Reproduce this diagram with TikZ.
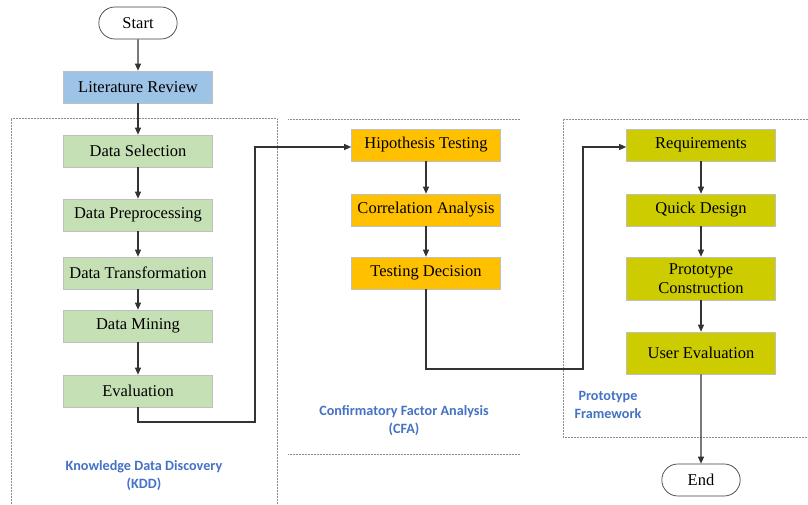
\documentclass[tikz,border=0pt]{standalone}
\usepackage{fontspec}
\setmainfont{Liberation Serif}
\newfontfamily\labelfont{Carlito}
\usetikzlibrary{arrows.meta,shapes.misc}
\definecolor{litblue}{HTML}{9DC3E6}
\definecolor{kddgreen}{HTML}{C5E0B4}
\definecolor{cfaorange}{HTML}{FFC000}
\definecolor{protoolive}{HTML}{CCCC00}
\definecolor{labelblue}{HTML}{4472C4}
\definecolor{edgegray}{HTML}{333333}
\tikzset{
  stepbox/.style={rectangle, minimum width=149pt, minimum height=32pt, inner sep=1pt,
    draw=black!25, line width=0.6pt, font=\fontsize{16.5}{19}\selectfont, align=center},
  litbox/.style={stepbox, fill=litblue},
  kddbox/.style={stepbox, fill=kddgreen},
  cfabox/.style={stepbox, fill=cfaorange},
  protobox/.style={stepbox, fill=protoolive},
  terminal/.style={rounded rectangle, draw=black!75, line width=0.7pt, minimum width=85pt,
    minimum height=32pt, fill=white, font=\fontsize{16.5}{19}\selectfont},
  flow/.style={draw=edgegray, line width=1.1pt, -{Triangle[length=7pt,width=6pt]}},
  region/.style={draw=black!45, densely dotted, line width=0.5pt},
  grouplabel/.style={text=labelblue, font=\labelfont\bfseries\fontsize{14.2}{18}\selectfont, align=center}
}
\begin{document}
\begin{tikzpicture}[x=1pt,y=-1pt]
\useasboundingbox[fill=white] (0,0) rectangle (808,505);

% group frames
\draw[region] (11,505) -- (11,118) -- (277,118) -- (277,505);
\draw[region] (288,119) -- (520,119);
\draw[region] (288,454) -- (520,454);
\draw[region] (808,437) -- (563,437) -- (563,119) -- (808,119);

% terminals and the literature step
\node[terminal] (start) at (138,23) {Start};
\node[litbox] (lit) at (138,87) {Literature Review};

% Knowledge Data Discovery
\node[kddbox] (sel)   at (138,151) {Data Selection};
\node[kddbox] (pre)   at (138,215) {Data Preprocessing};
\node[kddbox] (trans) at (138,273) {Data Transformation};
\node[kddbox] (mine)  at (138,326) {Data Mining};
\node[kddbox] (eval)  at (138,391) {Evaluation};

% Confirmatory Factor Analysis
\node[cfabox] (hyp)  at (426,145) {Hipothesis Testing};
\node[cfabox] (corr) at (426,210) {Correlation Analysis};
\node[cfabox] (dec)  at (426,273) {Testing Decision};

% Prototype framework
\node[protobox] (req)   at (701,145) {Requirements};
\node[protobox] (quick) at (701,210) {Quick Design};
\node[protobox, minimum height=43pt] (cons) at (701,278.5) {Prototype\\Construction};
\node[protobox, minimum height=42pt] (user) at (701,353) {User Evaluation};
\node[terminal] (end) at (701,480) {End};

% group captions
\node[grouplabel] (kddlab) at (144,476) {Knowledge Data Discovery\\(KDD)};
\node[grouplabel] (cfalab) at (404,421) {Confirmatory Factor Analysis\\(CFA)};
\node[grouplabel] (protolab) at (608,405) {Prototype\\Framework};

% connectors
\draw[flow] (start) -- (lit);
\draw[flow] (lit) -- (sel);
\draw[flow] (sel) -- (pre);
\draw[flow] (pre) -- (trans);
\draw[flow] (trans) -- (mine);
\draw[flow] (mine) -- (eval);
\draw[flow] (eval.south) |- (196,422) -| (255,147) -- (hyp.west |- 0,147);
\draw[flow] (hyp) -- (corr);
\draw[flow] (corr) -- (dec);
\draw[flow] (dec.south) |- (500,369) -| (583,147) -- (req.west |- 0,147);
\draw[flow] (req) -- (quick);
\draw[flow] (quick) -- (cons);
\draw[flow] (cons) -- (user);
\draw[flow] (user) -- (end);
\end{tikzpicture}
\end{document}
